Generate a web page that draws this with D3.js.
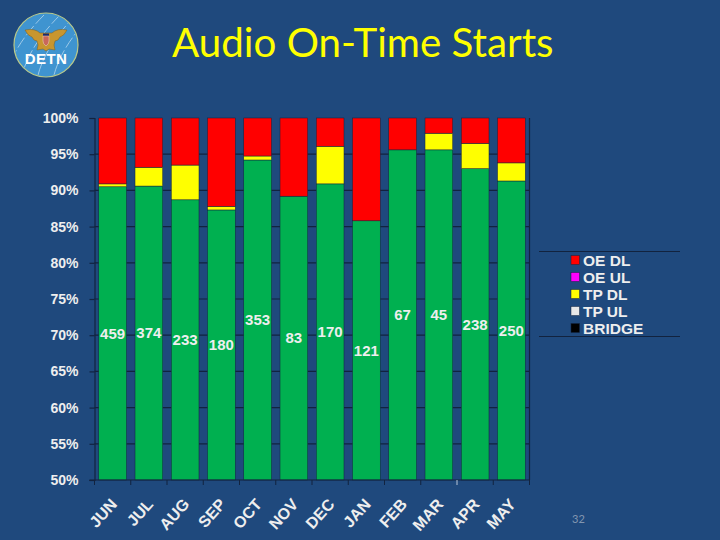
<!DOCTYPE html>
<html lang="en">
  <head>
    <meta charset="utf-8">
    <title>Audio On-Time Starts</title>
    <script src="https://d3js.org/d3.v7.min.js" charset="utf-8"></script>
    <style>
      html, body { margin: 0; padding: 0; background: #1f497d; }
      svg { display: block; }
      text { font-family: "Liberation Sans", Arial, sans-serif; }
    </style>
  </head>
  <body>
    <script>
      var width = 720,
      height = 540;

      // values
      var months = ["JUN", "JUL", "AUG", "SEP", "OCT", "NOV", "DEC", "JAN", "FEB", "MAR", "APR", "MAY"];
      var onTime = [90.5, 90.6, 88.7, 87.3, 94.2, 89.2, 90.9, 85.8, 95.6, 95.6, 93.0, 91.3];
      var bridge = [0, 0, 0, 0, 0, 0, 0, 0, 0, 0, 0, 0];
      var tpUL = [0, 0, 0, 0, 0, 0, 0, 0, 0, 0, 0, 0];
      var tpDL = [0.4, 2.6, 4.8, 0.5, 0.55, 0, 5.2, 0, 0, 2.3, 3.5, 2.5];
      var oeUL = [0, 0, 0, 0, 0, 0, 0, 0, 0, 0, 0, 0];
      var oeDL = [9.1, 6.8, 6.5, 12.2, 5.25, 10.8, 3.9, 14.2, 4.4, 2.1, 3.5, 6.2];
      var counts = [459, 374, 233, 180, 353, 83, 170, 121, 67, 45, 238, 250];
      var yTicks = [50, 55, 60, 65, 70, 75, 80, 85, 90, 95, 100];
      var legendNames = ["OE DL", "OE UL", "TP DL", "TP UL", "BRIDGE"];
      var legendColors = ["#ff0000", "#ff00ff", "#ffff00", "#e8e8e8", "#000000"];

      var margin = {left: 94.5, right: 190.5, top: 118, bottom: 60};
      var lineColor = "#12233f";
      var labelColor = "#eeeeee";

      var svg = d3.select("body").append("svg")
        .attr("width", width)
        .attr("height", height);

      var x = d3.scaleBand()
        .domain(months)
        .range([margin.left, width - margin.right])
        .paddingInner(0.235)
        .paddingOuter(0.1175);

      var y = d3.scaleLinear()
        .domain([50, 100])
        .range([height - margin.bottom, margin.top]);

      // gridlines sit behind the bars, the axis carries the labels
      var yAxis = d3.axisLeft(y)
        .tickValues(yTicks)
        .tickFormat(function(d) { return d + "%"; })
        .tickSize(5)
        .tickPadding(11);

      var gy = svg.append("g")
        .attr("transform", "translate(" + margin.left + ",0)")
        .call(yAxis);
      gy.select(".domain").attr("stroke", lineColor).attr("stroke-width", 1.2);
      gy.selectAll("line").attr("stroke", lineColor).attr("stroke-width", 1.2);
      gy.selectAll("text")
        .attr("fill", labelColor)
        .style("font-size", "14px")
        .style("font-weight", "bold");

      svg.append("g")
        .selectAll("line")
        .data(yTicks.filter(function(d) { return d > 50 && d < 100; }))
        .enter().append("line")
        .attr("x1", margin.left)
        .attr("x2", width - margin.right)
        .attr("y1", function(d) { return y(d); })
        .attr("y2", function(d) { return y(d); })
        .attr("stroke", lineColor)
        .attr("stroke-width", 1.2);

      // right hand wall of the plot
      svg.append("line")
        .attr("x1", width - margin.right)
        .attr("x2", width - margin.right)
        .attr("y1", y(100))
        .attr("y2", y(50))
        .attr("stroke", lineColor)
        .attr("stroke-width", 1.2);

      var table = months.map(function(m, i) {
        return {month: m, onTime: onTime[i], bridge: bridge[i], tpUL: tpUL[i], tpDL: tpDL[i], oeUL: oeUL[i], oeDL: oeDL[i]};
      });

      var stackKeys = ["onTime", "bridge", "tpUL", "tpDL", "oeUL", "oeDL"];
      var color = d3.scaleOrdinal()
        .domain(stackKeys)
        .range(["#00b050", "#000000", "#e8e8e8", "#ffff00", "#ff00ff", "#ff0000"]);

      var stacked = d3.stack().keys(stackKeys)(table);

      svg.append("g")
        .selectAll("g")
        .data(stacked)
        .enter().append("g")
        .attr("fill", function(d) { return color(d.key); })
        .selectAll("rect")
        .data(function(d) { return d.filter(function(v) { return v[1] > v[0]; }); })
        .enter().append("rect")
        .attr("x", function(d) { return x(d.data.month); })
        .attr("width", x.bandwidth())
        .attr("y", function(d) { return y(d[1] > 100 ? 100 : d[1]); })
        .attr("height", function(d) { return y(Math.max(d[0], 50)) - y(d[1]); })
        .attr("stroke", lineColor)
        .attr("stroke-width", 0.5);

      // counts sit halfway up the visible green part
      svg.append("g")
        .selectAll("text")
        .data(counts)
        .enter().append("text")
        .attr("x", function(d, i) { return x(months[i]) + x.bandwidth() / 2; })
        .attr("y", function(d, i) { return (y(onTime[i]) + y(50)) / 2; })
        .attr("dy", "0.36em")
        .attr("text-anchor", "middle")
        .attr("fill", labelColor)
        .style("font-size", "15px")
        .style("font-weight", "bold")
        .text(function(d) { return d; });

      // x axis: ticks on the band edges, labels turned 45 degrees
      var xBase = svg.append("g")
        .attr("transform", "translate(0," + y(50) + ")");
      xBase.append("line")
        .attr("x1", margin.left - 5)
        .attr("x2", width - margin.right)
        .attr("stroke", lineColor)
        .attr("stroke-width", 1.2);
      xBase.selectAll(".edge")
        .data(d3.range(months.length + 1))
        .enter().append("line")
        .attr("class", "edge")
        .attr("x1", function(d) { return margin.left + d * x.step(); })
        .attr("x2", function(d) { return margin.left + d * x.step(); })
        .attr("y2", 5)
        .attr("stroke", function(d) { return d === 10 ? "#b9c6d8" : lineColor; })
        .attr("stroke-width", 1);

      svg.append("g")
        .selectAll("text")
        .data(months)
        .enter().append("text")
        .attr("transform", function(d) {
          return "translate(" + (x(d) + x.bandwidth() / 2 + 1) + ",501) rotate(-48)";
        })
        .attr("text-anchor", "end")
        .attr("dy", "0.36em")
        .attr("fill", labelColor)
        .style("font-size", "16px")
        .style("font-weight", "bold")
        .text(function(d) { return d; });

      // legend
      var legend = svg.append("g");
      legend.selectAll(".rule")
        .data([251.5, 336.5])
        .enter().append("line")
        .attr("class", "rule")
        .attr("x1", 539)
        .attr("x2", 680)
        .attr("y1", function(d) { return d; })
        .attr("y2", function(d) { return d; })
        .attr("stroke", lineColor)
        .attr("stroke-width", 1);

      var legendItem = legend.selectAll(".item")
        .data(legendNames)
        .enter().append("g")
        .attr("class", "item")
        .attr("transform", function(d, i) { return "translate(571," + (260 + i * 17) + ")"; });
      legendItem.append("rect")
        .attr("y", -4.5)
        .attr("width", 8.5)
        .attr("height", 9)
        .attr("fill", function(d, i) { return legendColors[i]; })
        .attr("stroke", lineColor)
        .attr("stroke-width", 0.5);
      legendItem.append("text")
        .attr("x", 12)
        .attr("dy", "0.36em")
        .attr("fill", labelColor)
        .style("font-size", "15.5px")
        .style("font-weight", "bold")
        .text(function(d) { return d; });

      // title and page number
      svg.append("text")
        .attr("x", 172)
        .attr("y", 57)
        .attr("fill", "#ffff00")
        .style("font-family", "Lato, 'Open Sans', sans-serif")
        .style("font-size", "40.3px")
        .text("Audio On-Time Starts");

      svg.append("text")
        .attr("x", 578.5)
        .attr("y", 522.5)
        .attr("text-anchor", "middle")
        .attr("fill", "#8296b0")
        .style("font-family", "Lato, sans-serif")
        .style("font-size", "11px")
        .text("32");

      // DETN seal
      var logo = svg.append("g").attr("transform", "translate(46,45)");
      logo.append("clipPath").attr("id", "seal").append("circle").attr("r", 31);
      logo.append("circle")
        .attr("r", 32)
        .attr("fill", "#3f94d0")
        .attr("stroke", "#b9c98a")
        .attr("stroke-width", 1.2);
      [-34, -18, -2, 14, 30].forEach(function(a) {
        logo.append("path")
          .attr("d", "M" + (a - 6) + ",30 Q" + (a + 2) + ",0 " + (a + 32) + ",-30")
          .attr("clip-path", "url(#seal)")
          .attr("fill", "none")
          .attr("stroke", "#dcecf8")
          .attr("stroke-width", 0.6)
          .attr("stroke-dasharray", "12 3");
      });
      logo.append("path")
        .attr("d", "M-21,-15 Q-11,-17 -6,-12 L6,-12 Q11,-17 21,-15 Q18,-9 14,-8 L12,-5 L9,-4 L8,0 L9,5 L3,4 L0,6 L-3,4 L-9,5 L-8,0 L-9,-4 L-12,-5 L-14,-8 Q-18,-9 -21,-15 Z")
        .attr("fill", "#c8962f")
        .attr("stroke", "#7d5f1e")
        .attr("stroke-width", 0.5);
      logo.append("rect").attr("x", -3).attr("y", -11.5).attr("width", 6).attr("height", 2.5).attr("fill", "#1c2a6b");
      logo.append("path")
        .attr("d", "M-3,-9 H3 V-4 Q3,-1 0,1 Q-3,-1 -3,-4 Z")
        .attr("fill", "#c9675a")
        .attr("stroke", "#e9d8c8")
        .attr("stroke-width", 0.5);
      logo.append("text")
        .attr("y", 19)
        .attr("text-anchor", "middle")
        .attr("fill", "#ffffff")
        .style("font-size", "15px")
        .style("font-weight", "bold")
        .style("letter-spacing", "0.4px")
        .text("DETN");
    </script>
  </body>
</html>
